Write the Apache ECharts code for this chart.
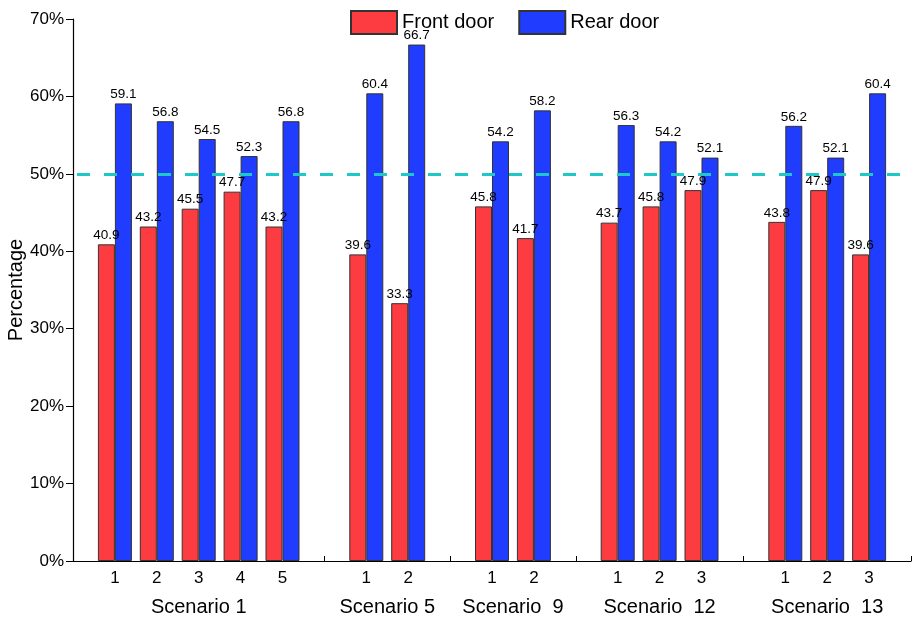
<!DOCTYPE html>
<html>
<head>
<meta charset="utf-8">
<script src="https://cdn.jsdelivr.net/npm/echarts@6/dist/echarts.min.js"></script>
<style>
html,body{margin:0;padding:0;background:#fff;}
#chart{width:912px;height:619px;}
</style>
</head>
<body>
<div id="chart"></div>
<script>
// ---- data ----
var groupNames = ['Scenario 1', 'Scenario 5', 'Scenario  9', 'Scenario  12', 'Scenario  13'];
var groupSizes = [5, 2, 2, 3, 3];
var frontDoor = [40.9, 43.2, 45.5, 47.7, 43.2, 39.6, 33.3, 45.8, 41.7, 43.7, 45.8, 47.9, 43.8, 47.9, 39.6];
var rearDoor  = [59.1, 56.8, 54.5, 52.3, 56.8, 60.4, 66.7, 54.2, 58.2, 56.3, 54.2, 52.1, 56.2, 52.1, 60.4];
var yTicks = [0, 10, 20, 30, 40, 50, 60, 70];
var referenceLine = 50;
var seriesNames = ['Front door', 'Rear door'];

// ---- build category axis with separators ----
var categories = [''];
var frontData = [null];
var rearData = [null];
var groupCenters = [];
var k = 0;
groupSizes.forEach(function (n) {
  var start = categories.length;
  for (var i = 0; i < n; i++) {
    categories.push(String(i + 1));
    frontData.push(frontDoor[k]);
    rearData.push(rearDoor[k]);
    k++;
  }
  groupCenters.push(start + (n - 1) / 2);
  categories.push('');
  frontData.push(null);
  rearData.push(null);
});
// half-step axis for group names
var halfCats = [];
for (var h = 0; h < (categories.length - 1) * 2 + 1; h++) halfCats.push('');
groupCenters.forEach(function (c, i) { halfCats[Math.round(c * 2)] = groupNames[i]; });

var FONT = '"Liberation Sans", Arial, sans-serif';
var chart = echarts.init(document.getElementById('chart'));
var labelOpt = {
  show: true, position: 'top', distance: 2,
  fontSize: 13.5, color: '#000', fontFamily: FONT
};
chart.setOption({
  animation: false,
  backgroundColor: '#fff',
  legend: {
    left: 345, top: 5,
    itemWidth: 46, itemHeight: 23, itemGap: 24,
    icon: 'rect',
    textStyle: { fontSize: 20, color: '#000', fontFamily: FONT },
    data: seriesNames
  },
  grid: { left: 73, right: 1, top: 19, bottom: 58, containLabel: false, outerBoundsMode: 'none' },
  xAxis: [{
    type: 'category',
    data: categories,
    boundaryGap: false,
    axisLine: { lineStyle: { color: '#000', width: 1.2 } },
    axisTick: {
      show: true, inside: true, length: 5,
      lineStyle: { color: '#000' },
      interval: function (idx, val) { return val === '' && idx > 0; }
    },
    axisLabel: { interval: 0, margin: 9, fontSize: 17, color: '#000', fontFamily: FONT },
    splitLine: { show: false }
  }, {
    type: 'category',
    data: halfCats,
    boundaryGap: false,
    position: 'bottom',
    axisLine: { show: false },
    axisTick: { show: false },
    axisLabel: { interval: 0, margin: 36, fontSize: 20, color: '#000', fontFamily: FONT },
    splitLine: { show: false }
  }],
  yAxis: {
    type: 'value',
    min: yTicks[0], max: yTicks[yTicks.length - 1], interval: 10,
    name: 'Percentage', nameLocation: 'middle', nameGap: 47, nameMoveOverlap: false,
    nameTextStyle: { fontSize: 20, color: '#000', fontFamily: FONT },
    axisLine: { show: true, lineStyle: { color: '#000', width: 1.2 } },
    axisTick: { show: true, inside: false, length: 7, lineStyle: { color: '#000' } },
    axisLabel: { formatter: '{value}%', fontSize: 17, color: '#000', margin: 9, fontFamily: FONT },
    splitLine: { show: false }
  },
  series: [{
    name: seriesNames[0],
    type: 'bar',
    xAxisIndex: 0,
    data: frontData,
    barWidth: 17,
    barGap: '0%',
    itemStyle: { color: '#fc3c40', borderColor: '#333', borderWidth: 1 },
    label: labelOpt,
    markLine: {
      silent: true,
      symbol: 'none',
      label: { show: false },
      lineStyle: { color: '#1fc8c8', width: 3, type: [13, 14], dashOffset: -4 },
      data: [{ yAxis: referenceLine }]
    }
  }, {
    name: seriesNames[1],
    type: 'bar',
    xAxisIndex: 0,
    data: rearData,
    barWidth: 17,
    barGap: '0%',
    itemStyle: { color: '#1f3cff', borderColor: '#333', borderWidth: 1 },
    label: labelOpt
  }]
});
</script>
</body>
</html>
